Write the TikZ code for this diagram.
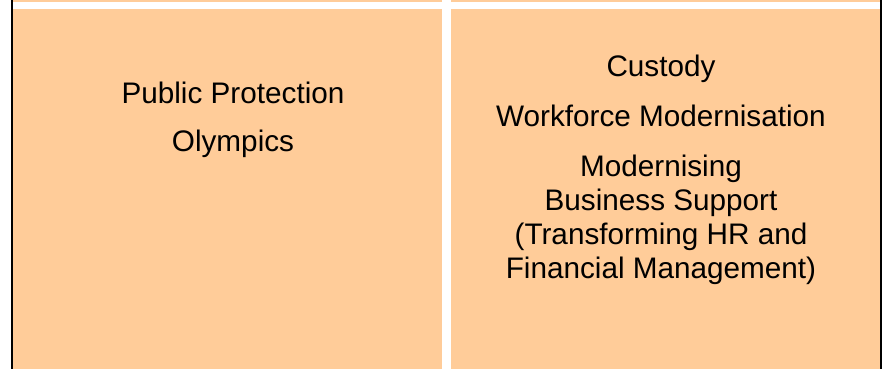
\documentclass[tikz,border=0pt]{standalone}
\usepackage{fontspec}
\setmainfont{Liberation Sans}
\usetikzlibrary{positioning}
\definecolor{cellfill}{HTML}{FFCC99}

\begin{document}
\begin{tikzpicture}[x=1pt,y=-1pt,
  cell/.style={fill=cellfill,draw=none,minimum width=429pt,inner sep=0pt},
  item/.style={align=center,inner sep=0pt,font=\fontsize{29.7}{34}\selectfont},
  rule/.style={line width=2.5pt,black},
]
\useasboundingbox (0,0) rectangle (884,368);
\fill[white] (0,0) rectangle (884,368);

% row above: only its lower edge is in view
\node[cell,minimum height=20pt,anchor=south west] (upl) at (13,2) {};
\node[cell,minimum height=20pt,right=8pt of upl] (upr) {};

% the two cells of this row
\node[cell,minimum height=380pt,anchor=north west] (left) at (13,9) {};
\node[cell,minimum height=380pt,right=8pt of left] (right) {};

% cell texts (base = last line)
\node[item,anchor=base] (pp) at (233,151) {Public Protection\\[14pt]Olympics};
\node[item,anchor=base] (cu) at (661,278.5)
  {Custody\\[16pt]Workforce Modernisation\\[16pt]Modernising\\Business Support\\(Transforming HR and\\Financial Management)};

% outer border of the table
\draw[rule] ([xshift=-1.25pt]upl.north west) -- ([xshift=-1.25pt]left.south west);
\draw[rule] ([xshift=1.25pt]upr.north east) -- ([xshift=1.25pt]right.south east);
\end{tikzpicture}
\end{document}
